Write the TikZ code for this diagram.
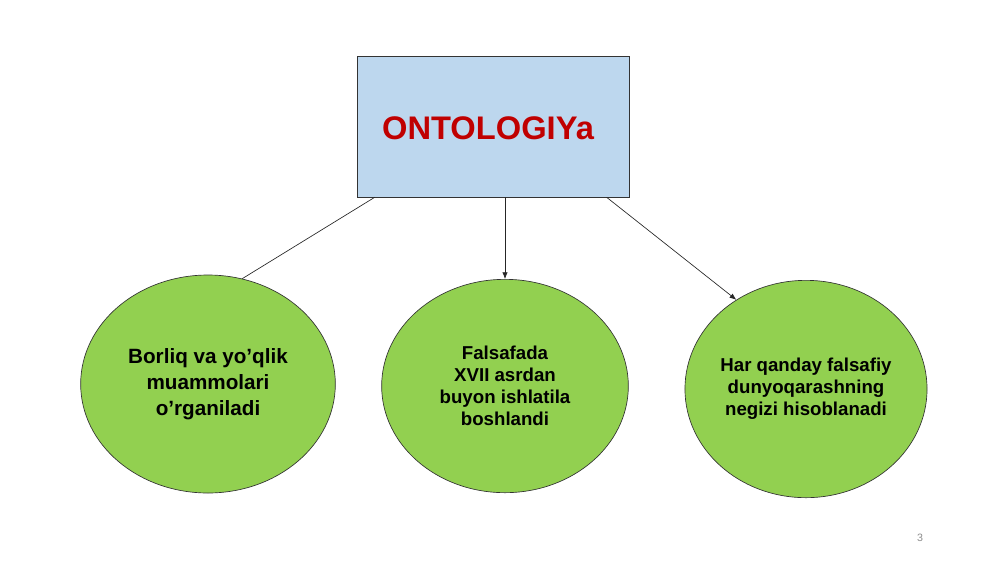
\documentclass[tikz,border=0pt]{standalone}
\usepackage{fontspec}
\setmainfont{Liberation Sans}
\usepackage{xcolor}
\usetikzlibrary{shapes.geometric,arrows.meta}
\definecolor{boxblue}{RGB}{189,215,238}
\definecolor{ovalgreen}{RGB}{146,208,80}
\definecolor{titlered}{RGB}{192,0,0}

\begin{document}
\begin{tikzpicture}[x=0.75pt,y=-0.75pt,>={Latex[length=5pt,width=4pt]},
  oval/.style={ellipse,draw=black!80,fill=ovalgreen,line width=0.5pt,inner sep=0pt,align=center,font=\bfseries\fontsize{14}{16.5}\selectfont},
  link/.style={draw=black!85,line width=0.5pt}]
\useasboundingbox (0,0) rectangle (1000,562);
\node[rectangle,draw=black!80,fill=boxblue,minimum width=204pt,minimum height=105.75pt] (top) at (493,126.5) {};
\node[text=titlered,font=\bfseries\fontsize{24.5}{28}\selectfont] (title) at (488,128) {ONTOLOGIYa};
\node[oval,minimum width=191pt,minimum height=163.5pt,font=\bfseries\fontsize{15.5}{19.5}\selectfont] (left) at (208,384) {Borliq va yo’qlik\\muammolari\\o’rganiladi};
\node[oval,minimum width=185pt,minimum height=160pt] (mid) at (505,386) {Falsafada\\XVII asrdan\\buyon ishlatila\\boshlandi};
\node[oval,minimum width=175pt,minimum height=163pt] (right) at (806,389) {Har qanday falsafiy\\dunyoqarashning\\negizi hisoblanadi};
\node[text=black!45,font=\fontsize{8}{9}\selectfont] (page) at (920,538) {3};
\path[link] ([xshift=13.5pt]top.south west) -- (left.72);
\path[link,->] (top.south -| mid.north) -- (mid.north);
\path[link,->] ([xshift=-17pt]top.south east) -- (right.128);
\end{tikzpicture}
\end{document}
